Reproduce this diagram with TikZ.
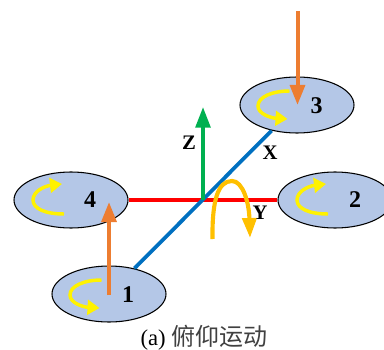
\documentclass[tikz,border=0pt]{standalone}
\usepackage{fontspec}
\setmainfont{Liberation Serif}
\newfontfamily\cjkfont{Noto Sans CJK SC}
\usetikzlibrary{shapes.geometric, arrows.meta}
\definecolor{rotorblue}{RGB}{180, 199, 231}
\definecolor{armblue}{RGB}{0, 112, 192}
\definecolor{liftorange}{RGB}{237, 125, 49}
\definecolor{axisgreen}{RGB}{0, 176, 80}
\definecolor{turngold}{RGB}{255, 192, 0}
\tikzset{
    rotor/.style={ellipse, draw, thick, fill=rotorblue, minimum width=85.5pt, minimum height=42pt, inner sep=0pt},
    rotortext/.style={font=\fontsize{18}{18}\selectfont\bfseries, inner sep=0pt},
    axistext/.style={font=\fontsize{15.5}{15.5}\selectfont\bfseries, inner sep=0pt},
    spin/.style={-{Triangle[length=9pt, width=11pt]}, line width=2.6pt, yellow},
    thrust/.style={-{Triangle[length=15pt, width=11pt]}, line width=3pt, liftorange}
}
\begin{document}
\begin{tikzpicture}[x=0.75pt, y=-0.75pt]
        \useasboundingbox (0,0) rectangle (384,349);
        % Rotors
        \node[rotor] (rotor4) at (71,200) {};
        \node[rotor] (rotor2) at (335,200) {};
        \node[rotor] (rotor1) at (109,294) {};
        \node[rotor] (rotor3) at (297,105) {};
        \coordinate (origin) at (203,200);
        \coordinate (ztip) at (203,107);
        \coordinate (upstart) at (109,295);
        \coordinate (uptip) at (109,202);
        \coordinate (downstart) at (297.5,11);
        \coordinate (downtip) at (297.5,105);
        % Arms
        \draw[line width=2.6pt, red] (rotor4) -- (rotor2);
        \draw[line width=2.8pt, armblue] (rotor1) -- (rotor3);
        % Z axis
        \draw[-{Triangle[length=15.5pt, width=11pt]}, line width=2.8pt, axisgreen] (origin) -- (ztip);
        % Thrust arrows
        \draw[thrust] (upstart) -- (uptip);
        \draw[thrust] (downstart) -- (downtip);
        % Rotor spin
        \draw[spin, shift={(rotor4)}] (-7,14) .. controls (-25,14) and (-38,9) .. (-38,0) .. controls (-38,-9) and (-26,-14) .. (-9,-16);
        \draw[spin, shift={(rotor2)}] (-7,14) .. controls (-25,14) and (-38,9) .. (-38,0) .. controls (-38,-9) and (-26,-14) .. (-9,-16);
        \draw[spin, shift={(rotor1)}] (-7.5,-14) .. controls (-25,-14) and (-39,-8) .. (-39,1) .. controls (-39,9) and (-26,13) .. (-9.5,14);
        \draw[spin, shift={(rotor3)}] (-7.5,-14) .. controls (-25,-14) and (-39,-8) .. (-39,1) .. controls (-39,9) and (-26,13) .. (-9.5,14);
        % Pitch turn
        \draw[-{Triangle[length=15pt, width=10.5pt]}, line width=3.1pt, turngold] (212.5,239) .. controls (212,200) and (218,181) .. (232,181) .. controls (243,181) and (249,203) .. (250,238);
        % Labels
        \node[rotortext] (label1) at (128,295) {1};
        \node[rotortext] (label2) at (355,200) {2};
        \node[rotortext] (label3) at (316.5,105.5) {3};
        \node[rotortext] (label4) at (90,200) {4};
        \node[axistext] (labelz) at (189,143) {Z};
        \node[axistext] (labelx) at (270,153) {X};
        \node[axistext] (labely) at (260,213) {Y};
        \node[inner sep=0pt, font=\fontsize{17}{17}\selectfont] (caption) at (204,338) {(a) {\cjkfont\fontsize{18}{18}\selectfont\color{black!75}俯仰运动}};
    \end{tikzpicture}
\end{document}
